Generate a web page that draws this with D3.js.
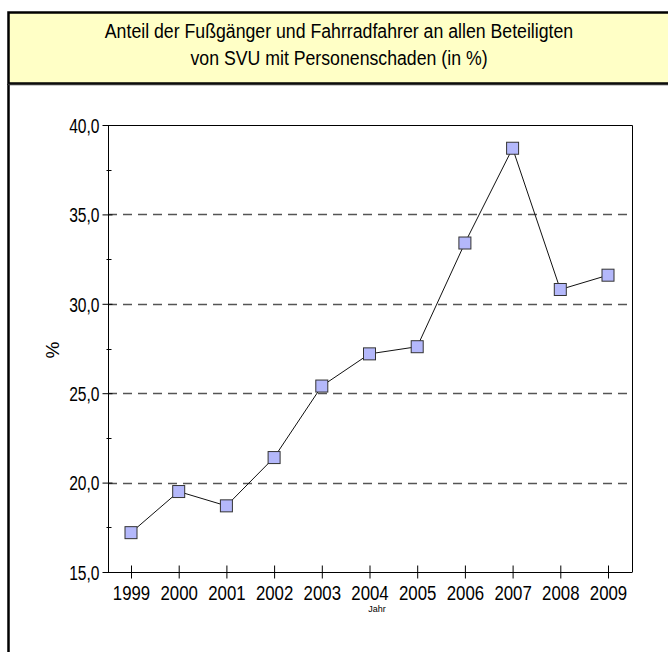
<!DOCTYPE html>
<html>
<head>
<meta charset="utf-8">
<script src="https://cdn.jsdelivr.net/npm/d3@7/dist/d3.min.js"></script>
<style>
  html, body { margin: 0; padding: 0; background: #fff; }
  svg { display: block; }
  text { font-family: "Liberation Sans", Arial, sans-serif; fill: #000; }
</style>
</head>
<body>
<script>
// Share of pedestrians and cyclists among all persons involved in road accidents with injuries
const years = ["1999", "2000", "2001", "2002", "2003", "2004", "2005", "2006", "2007", "2008", "2009"];
const shares = [17.2, 19.5, 18.7, 21.4, 25.4, 27.2, 27.6, 33.4, 38.7, 30.8, 31.6];
const yTicks = [15, 20, 25, 30, 35, 40];
const yMinorTicks = [17.5, 22.5, 27.5, 32.5, 37.5];
const gridValues = [20, 25, 30, 35];
const titleLines = ["Anteil der Fußgänger und Fahrradfahrer an allen Beteiligten", "von SVU mit Personenschaden (in %)"];

const W = 668, H = 652;
const svg = d3.select("body").append("svg").attr("width", W).attr("height", H);

// Squeeze a text horizontally to give it a condensed look
function condense(sel, factor) {
  sel.each(function () {
    const w = this.getComputedTextLength();
    d3.select(this).attr("textLength", w * factor).attr("lengthAdjust", "spacingAndGlyphs");
  });
}

// Outer frame (left edge visible down to the bottom)
svg.append("line").attr("x1", 8.5).attr("x2", 8.5).attr("y1", 84).attr("y2", H)
  .attr("stroke", "#000").attr("stroke-width", 2.5);

// Title box
svg.append("rect").attr("x", 8.5).attr("y", 12.5).attr("width", 662).attr("height", 71)
  .attr("fill", "#ffffc6").attr("stroke", "#000").attr("stroke-width", 2.5);
svg.append("line").attr("x1", 8).attr("x2", 668).attr("y1", 84.5).attr("y2", 84.5)
  .attr("stroke", "#333").attr("stroke-width", 1.5);

svg.append("g").selectAll("text").data(titleLines).join("text")
  .attr("x", 339).attr("y", (d, i) => 38 + i * 27)
  .attr("text-anchor", "middle").attr("font-size", 20).text(d => d)
  .call(condense, 0.885);

// Plot area
const m = { left: 108, top: 125, right: 632, bottom: 572 };
const x = d3.scalePoint().domain(years).range([131, 608]);
const y = d3.scaleLinear().domain([15, 40]).range([m.bottom, m.top]);

// Dashed grid lines
svg.append("g").selectAll("line").data(gridValues).join("line")
  .attr("x1", m.left).attr("x2", m.right)
  .attr("y1", d => Math.round(y(d)) + 0.5).attr("y2", d => Math.round(y(d)) + 0.5)
  .attr("stroke", "#555").attr("stroke-width", 1.3).attr("stroke-dasharray", "9,6");

// Frame: top and right
svg.append("path")
  .attr("d", `M${m.left},${m.top + 0.5}H${m.right + 0.5}V${m.bottom}`)
  .attr("fill", "none").attr("stroke", "#000").attr("stroke-width", 1);

// Y axis
const yAxis = d3.axisLeft(y).tickValues(yTicks).tickSize(5).tickPadding(4)
  .tickFormat(d => d3.format(".1f")(d).replace(".", ","));
const gy = svg.append("g").attr("transform", `translate(${m.left + 0.5},0)`).call(yAxis);
gy.select(".domain").attr("stroke", "#000").attr("d", `M0,${m.top}V${m.bottom}`);
gy.selectAll(".tick line").attr("x2", -6).attr("x1", 4).attr("stroke", "#000");
gy.selectAll(".tick text").attr("font-size", 20).attr("dy", "0.36em").attr("x", -9).attr("fill", "#000")
  .attr("font-family", '"Liberation Sans", Arial, sans-serif')
  .call(condense, 0.78);
// Minor ticks
gy.append("g").selectAll("line").data(yMinorTicks).join("line")
  .attr("x1", -2).attr("x2", 3)
  .attr("y1", d => Math.round(y(d)) + 0.5).attr("y2", d => Math.round(y(d)) + 0.5)
  .attr("stroke", "#000");

// X axis
const xAxis = d3.axisBottom(x).tickSize(0).tickPadding(13);
const gx = svg.append("g").attr("transform", `translate(0,${m.bottom + 0.5})`).call(xAxis);
gx.select(".domain").attr("stroke", "#000").attr("d", `M${m.left},0H${m.right + 0.5}`);
gx.selectAll(".tick line").attr("y1", -7).attr("y2", 6).attr("stroke", "#000");
gx.selectAll(".tick text").attr("font-size", 20).attr("fill", "#000")
  .attr("font-family", '"Liberation Sans", Arial, sans-serif')
  .call(condense, 0.84);

// Axis titles
svg.append("text").attr("transform", "translate(59,350) rotate(-90)")
  .attr("text-anchor", "middle").attr("font-size", 19).text("%");
svg.append("text").attr("x", 377).attr("y", 612).attr("text-anchor", "middle")
  .attr("font-size", 9).text("Jahr");

// Line and markers
const pts = years.map((yr, i) => ({ yr, v: shares[i] }));
svg.append("path").datum(pts)
  .attr("d", d3.line().x(d => x(d.yr)).y(d => y(d.v)))
  .attr("fill", "none").attr("stroke", "#111").attr("stroke-width", 1);

const s = 12;
svg.append("g").selectAll("rect").data(pts).join("rect")
  .attr("x", d => x(d.yr) - s / 2).attr("y", d => y(d.v) - s / 2)
  .attr("width", s).attr("height", s)
  .attr("fill", "#b4b8fb").attr("stroke", "#333").attr("stroke-width", 1);
</script>
</body>
</html>
